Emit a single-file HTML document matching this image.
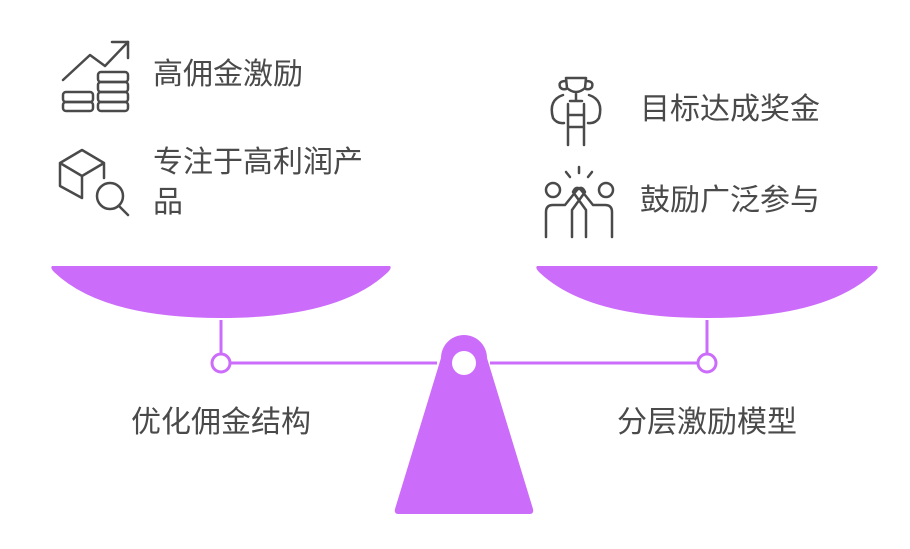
<!DOCTYPE html>
<html><head><meta charset="utf-8"><style>
body{margin:0;background:#fff;width:910px;height:549px;overflow:hidden;position:relative;font-family:"Liberation Sans","Noto Sans CJK SC",sans-serif;color:#4a4a4a}
.t{position:absolute;font-size:30px;line-height:40px;white-space:nowrap}
svg{position:absolute;left:0;top:0}
</style></head><body>
<svg width="910" height="549" viewBox="0 0 910 549">
<g fill="#CC6CFA">
<path d="M52 266 L390 266 Q392 268 388 272 Q340 318 221 318 Q102 318 54 272 Q50 268 52 266Z"/>
<path d="M537 266 L877 266 Q879 268 875 272 Q827 318 707 318 Q587 318 539 272 Q535 268 537 266Z"/>
<path d="M441 358 A23 23 0 0 1 487 358 L533 509 Q534 514 530 514 L398 514 Q394 514 395 509 Z"/>
</g>
<circle cx="464" cy="363" r="12" fill="#fff"/>
<g stroke="#CC6CFA" stroke-width="3" fill="none">
<line x1="221" y1="320" x2="221" y2="354"/>
<line x1="707" y1="320" x2="707" y2="354"/>
<line x1="230" y1="363" x2="437" y2="363"/>
<line x1="490" y1="363" x2="698" y2="363"/>
<circle cx="221" cy="363" r="9" fill="#fff"/>
<circle cx="707" cy="363" r="9" fill="#fff"/>
</g>
<g stroke="#4a4a4a" stroke-width="2.5" fill="none" stroke-linecap="round" stroke-linejoin="round">
<polyline points="63,80 90,55 105,66 128,42"/><polyline points="112,42 128,42 128,58"/>
<rect x="63" y="92" width="30" height="10" rx="3"/><rect x="63" y="102" width="30" height="9" rx="3"/>
<rect x="98" y="72" width="30" height="10" rx="3"/><rect x="98" y="82" width="30" height="10" rx="3"/><rect x="98" y="92" width="30" height="10" rx="3"/><rect x="98" y="102" width="30" height="9" rx="3"/>
<path d="M60 163 L82 150 L104 163 L104 178 M60 163 L82 176 L104 163 M60 163 L60 186 L82 198 M82 176 L82 198"/>
<circle cx="110" cy="196" r="13"/><line x1="119" y1="206" x2="128" y2="215"/>
<path d="M566 78 L586 78 L585 88 Q576 96 567 88 Z M566 81 Q558 81 560 87 Q562 90 566 89 M586 81 Q594 81 592 87 Q590 90 586 89 M576 94 L576 100 M570 101 L582 101"/>
<path d="M568 104 L568 145 M584 104 L584 145 M568 115 L584 115 M568 127 L584 127"/>
<path d="M563 95 Q548 100 553 118 Q557 124 564 123 M589 95 Q604 100 599 118 Q595 124 588 123"/>
<circle cx="553" cy="190" r="7"/><circle cx="606" cy="190" r="7"/>
<path d="M546 237 L546 212 Q546 205 553 205 L565 205 L577 190 Q582 185 585 192 L572 210 L572 237 M612 237 L612 212 Q612 205 605 205 L593 205 L581 190 Q576 185 573 192 L586 210 L586 237"/>
<path d="M579 167 L579 173 M566 172 L570 177 M592 172 L588 177"/>
</g>
</svg>
<div class="t" style="left:153px;top:55px">高佣金激励</div>
<div class="t" style="left:153px;top:143px">专注于高利润产</div>
<div class="t" style="left:153px;top:183px">品</div>
<div class="t" style="left:640px;top:90px">目标达成奖金</div>
<div class="t" style="left:640px;top:181px">鼓励广泛参与</div>
<div class="t" style="left:131px;top:403px">优化佣金结构</div>
<div class="t" style="left:617px;top:403px">分层激励模型</div>
</body></html>
